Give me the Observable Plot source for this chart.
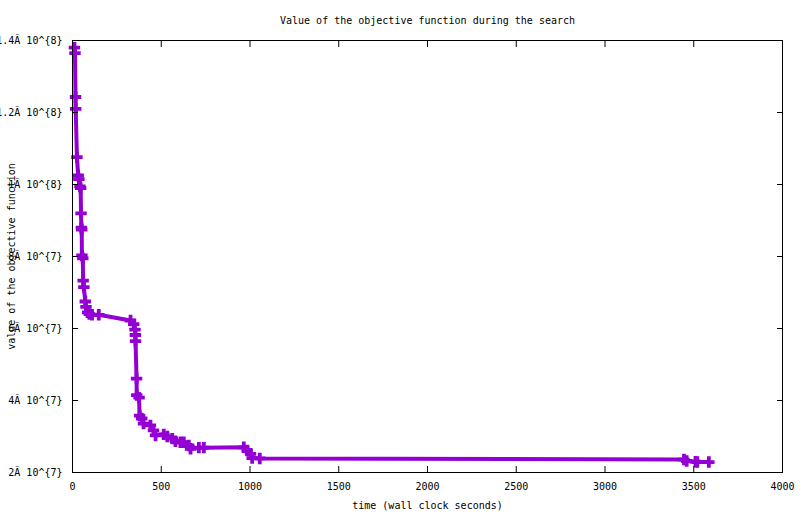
<!DOCTYPE html>
<html>
<head>
<meta charset="utf-8">
<script src="https://cdn.jsdelivr.net/npm/d3@7"></script>
<script src="https://cdn.jsdelivr.net/npm/@observablehq/plot@0.6"></script>
<style>
  html, body { margin: 0; padding: 0; background: #fff; }
</style>
</head>
<body>
<div id="chart"></div>
<script>
const titleText = "Value of the objective function during the search";
const xLabel = "time (wall clock seconds)";
const yLabel = "value of the objective function";

const times = [11, 14, 17, 18, 25, 32, 36, 42, 46, 48, 50, 52, 53, 58, 60, 64, 72, 76, 85, 95, 110, 148,
  327, 345, 352, 354, 355, 361, 362, 375, 378, 390, 400, 439, 456, 468, 514, 534, 562, 580, 608, 627,
  655, 665, 712, 740, 965, 984, 1003, 1012, 1055, 3445, 3460, 3510, 3520, 3585];
const values = [1.38e8, 1.365e8, 1.243e8, 1.21e8, 1.076e8, 1.025e8, 1.015e8, 0.995e8, 0.99e8, 9.2e7, 8.8e7, 8.75e7, 8.03e7, 7.95e7, 7.33e7, 7.15e7, 6.75e7, 6.6e7, 6.45e7, 6.4e7, 6.38e7, 6.38e7,
  6.22e7, 6.12e7, 5.97e7, 5.82e7, 5.65e7, 4.61e7, 4.15e7, 4.08e7, 3.58e7, 3.5e7, 3.36e7, 3.31e7, 3.17e7, 3.03e7, 3.06e7, 3.0e7, 2.94e7, 2.87e7, 2.84e7, 2.84e7,
  2.75e7, 2.66e7, 2.69e7, 2.69e7, 2.70e7, 2.61e7, 2.52e7, 2.4e7, 2.39e7, 2.36e7, 2.32e7, 2.3e7, 2.29e7, 2.29e7];

const xTicks = [0, 500, 1000, 1500, 2000, 2500, 3000, 3500, 4000];
const yTicks = [2e7, 4e7, 6e7, 8e7, 1e8, 1.2e8, 1.4e8];
const yTickLabels = ["2Ã 10^{7}", "4Ã 10^{7}", "6Ã 10^{7}", "8Ã 10^{7}", "1Ã 10^{8}", "1.2Ã 10^{8}", "1.4Ã 10^{8}"];

const data = times.map((t, i) => ({t, v: values[i]}));
const color = "#9400d3";

const chart = Plot.plot({
  width: 800,
  height: 514,
  marginLeft: 72,
  marginRight: 18,
  marginTop: 40,
  marginBottom: 42,
  style: {fontFamily: "DejaVu Sans Mono", fontSize: "10px", color: "black", background: "white"},
  x: {domain: [0, 4000], label: null},
  y: {domain: [2e7, 1.4e8], label: null},
  marks: [
    Plot.line(data, {x: "t", y: "v", stroke: color, strokeWidth: 4}),
    Plot.dot(data, {x: "t", y: "v", symbol: "cross", fill: color, r: 4.8}),
    Plot.frame({stroke: "black", strokeWidth: 1}),
    // inward ticks on all four sides
    Plot.axisX({anchor: "bottom", ticks: xTicks, tickSize: 6, dy: -6, fill: "none", stroke: "black"}),
    Plot.axisX({anchor: "top", ticks: xTicks, tickSize: 6, dy: 6, fill: "none", stroke: "black"}),
    Plot.axisY({anchor: "left", ticks: yTicks, tickSize: 6, dx: 6, fill: "none", stroke: "black"}),
    Plot.axisY({anchor: "right", ticks: yTicks, tickSize: 6, dx: -6, fill: "none", stroke: "black"}),
    // tick labels
    Plot.axisX({anchor: "bottom", ticks: xTicks, tickSize: 0, tickPadding: 10, tickFormat: d => String(d), fill: "black"}),
    Plot.axisY({anchor: "left", ticks: yTicks, tickSize: 0, tickPadding: 10,
      tickFormat: d => yTickLabels[yTicks.indexOf(d)], fill: "black"}),
    // titles
    Plot.text([titleText], {frameAnchor: "top", dy: -20, lineAnchor: "middle", textAnchor: "middle", fill: "black"}),
    Plot.text([xLabel], {frameAnchor: "bottom", dy: 33, lineAnchor: "middle", textAnchor: "middle", fill: "black"}),
    Plot.text([yLabel], {frameAnchor: "left", dx: -61, rotate: -90, lineAnchor: "middle", textAnchor: "middle", fill: "black"})
  ]
});
document.getElementById("chart").appendChild(chart);
</script>
</body>
</html>
